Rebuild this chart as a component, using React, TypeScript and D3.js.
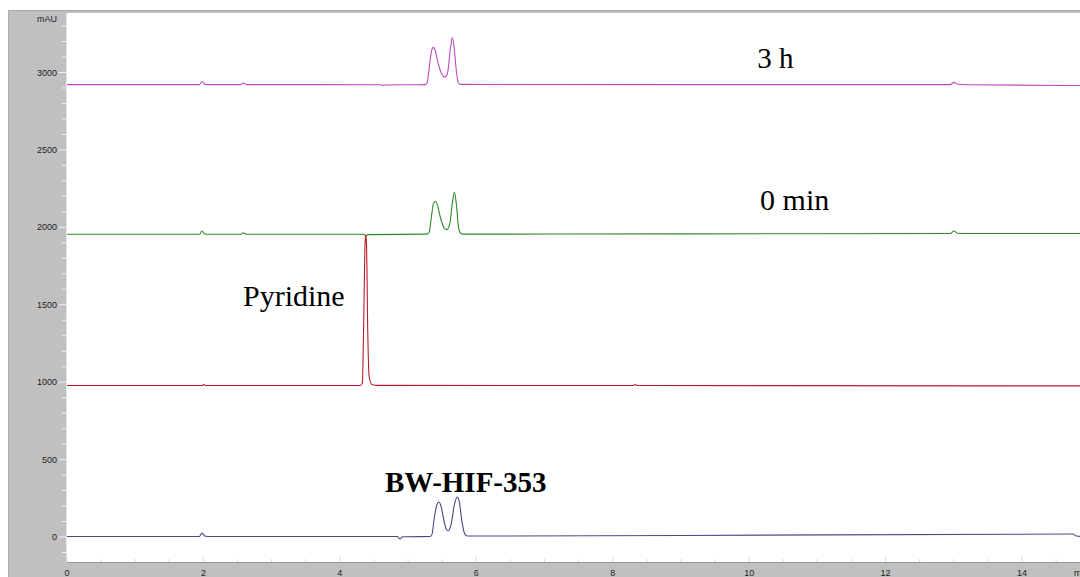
import React from "react";
import * as d3 from "d3";

const W = 1080, H = 577;

// time (min), absorbance (mAU)
const trace3h: [number, number][] = [
  [0, 2922], [1.94, 2922], [1.98, 2942], [2.02, 2924], [2.06, 2922], [2.55, 2922], [2.58, 2934], [2.63, 2922],
  [4.6, 2921], [4.62, 2917], [4.65, 2919], [5.25, 2922], [5.28, 2935], [5.31, 3030], [5.34, 3130], [5.37, 3162],
  [5.4, 3140], [5.44, 3060], [5.5, 2985], [5.54, 2970], [5.58, 3000], [5.62, 3150], [5.65, 3226], [5.68, 3140],
  [5.71, 3000], [5.74, 2930], [5.78, 2923], [9.0, 2922], [12.95, 2922], [13.0, 2936], [13.06, 2924], [13.2, 2921],
  [14.85, 2916]
];
const trace0min: [number, number][] = [
  [0, 1955], [1.94, 1955], [1.98, 1976], [2.02, 1957], [2.06, 1955], [2.55, 1955], [2.58, 1965], [2.63, 1955],
  [4.35, 1955], [4.38, 1944], [4.41, 1953], [5.28, 1956], [5.31, 1970], [5.34, 2060], [5.37, 2150], [5.40, 2168],
  [5.43, 2145], [5.47, 2070], [5.53, 1995], [5.57, 1985], [5.61, 2020], [5.65, 2160], [5.68, 2226], [5.71, 2140],
  [5.74, 2000], [5.77, 1962], [5.81, 1956], [9.0, 1958], [12.95, 1960], [13.0, 1976], [13.06, 1962], [13.2, 1960],
  [14.85, 1960]
];
const tracePyridine: [number, number][] = [
  [0, 978], [1.98, 978], [2.0, 985], [2.03, 978], [4.3, 978], [4.33, 995], [4.35, 1400], [4.37, 1900], [4.38, 1950],
  [4.39, 1900], [4.41, 1300], [4.43, 1035], [4.47, 985], [4.55, 979], [8.3, 978], [8.33, 985], [8.36, 978],
  [14.85, 976]
];
const traceBW: [number, number][] = [
  [0, 3], [1.94, 3], [1.98, 25], [2.02, 6], [2.06, 3], [4.84, 3], [4.88, -12], [4.92, 2], [5.32, 3], [5.35, 15],
  [5.38, 110], [5.42, 205], [5.45, 226], [5.48, 205], [5.52, 120], [5.56, 50], [5.59, 40], [5.63, 80], [5.68, 210],
  [5.72, 258], [5.75, 230], [5.79, 100], [5.83, 20], [5.87, 6], [9.0, 10], [14.75, 19], [14.8, 6], [14.85, 4]
];

const seriesNames = ["3 h", "0 min", "Pyridine", "BW-HIF-353"];
const seriesColors = ["#c048c0", "#2a8a2a", "#b81c2c", "#4a4a88"];
const seriesData = [trace3h, trace0min, tracePyridine, traceBW];

const xMajorTicks = [0, 2, 4, 6, 8, 10, 12, 14];
const yMajorTicks = [0, 500, 1000, 1500, 2000, 2500, 3000];

const labels = [
  { text: "3 h", t: 10.12, v: 3030, bold: false, size: 29 },
  { text: "0 min", t: 10.16, v: 2115, bold: false, size: 30 },
  { text: "Pyridine", t: 2.58, v: 1490, bold: false, size: 30 },
  { text: "BW-HIF-353", t: 4.66, v: 290, bold: true, size: 29 },
];

export default function App() {
  const plotL = 67, plotT = 13, plotR = 1080, plotB = 562;
  const x = d3.scaleLinear().domain([0, 14]).range([67, 1022]);
  const y = d3.scaleLinear().domain([0, 3000]).range([537, 72.5]);
  const lineGen = d3.line<[number, number]>().x(d => x(d[0])).y(d => y(d[1])).curve(d3.curveMonotoneX);

  const xMinor = d3.range(0, 15, 0.5).filter(v => x(v) <= plotR);
  const yMinor = d3.range(-100, 3400, 100).filter(v => y(v) >= plotT && y(v) <= plotB);

  return (
    <svg width={W} height={H} style={{ position: "absolute", left: 0, top: 0, background: "#fff" }}
      fontFamily="Arial, Liberation Sans, sans-serif">
      <rect x={8} y={10} width={W - 8} height={H - 10} fill="#c0c0c0" />
      <line x1={8} y1={10.5} x2={W} y2={10.5} stroke="#a8a8a8" />
      <line x1={8.5} y1={10} x2={8.5} y2={H} stroke="#b0b0b0" />
      <clipPath id="plotclip">
        <rect x={plotL} y={plotT} width={plotR - plotL} height={plotB - plotT} />
      </clipPath>
      <rect x={plotL} y={plotT} width={plotR - plotL} height={plotB - plotT} fill="#fff" />
      <line x1={plotL - 0.5} y1={plotT} x2={plotL - 0.5} y2={plotB + 1} stroke="#e8e8e8" />
      <line x1={plotL} y1={plotB + 0.5} x2={plotR} y2={plotB + 0.5} stroke="#9a9a9a" />
      {yMinor.map(v => (
        <line key={"ym" + v} x1={v % 500 === 0 ? 59 : 62} x2={plotL - 1} y1={y(v)} y2={y(v)} stroke="#f2f2f2" strokeWidth={1} />
      ))}
      {yMajorTicks.map(v => (
        <text key={"yl" + v} x={57} y={y(v) + 3} fontSize={9} fill="#222" textAnchor="end">{v}</text>
      ))}
      <text x={57} y={22} fontSize={9} fill="#222" textAnchor="end">mAU</text>
      {xMinor.map(v => (
        <line key={"xm" + v} x1={x(v)} x2={x(v)} y1={plotB} y2={v % 2 === 0 ? plotB - 5 : plotB - 3} stroke="#d8d8d8" />
      ))}
      {xMajorTicks.map(v => (
        <text key={"xl" + v} x={x(v)} y={576} fontSize={9} fill="#222" textAnchor="middle">{v}</text>
      ))}
      <text x={1074} y={576} fontSize={9} fill="#222">min</text>
      <g clipPath="url(#plotclip)">
        {seriesData.map((d, i) => (
          <path key={seriesNames[i]} d={lineGen(d) || ""} fill="none" stroke={seriesColors[i]} strokeWidth={1.1} />
        ))}
      </g>
      {labels.map(l => (
        <text key={l.text} x={x(l.t)} y={y(l.v)} fontFamily="Liberation Serif, Times New Roman, serif"
          fontSize={l.size} fontWeight={l.bold ? "bold" : "normal"} fill="#000">{l.text}</text>
      ))}
    </svg>
  );
}
